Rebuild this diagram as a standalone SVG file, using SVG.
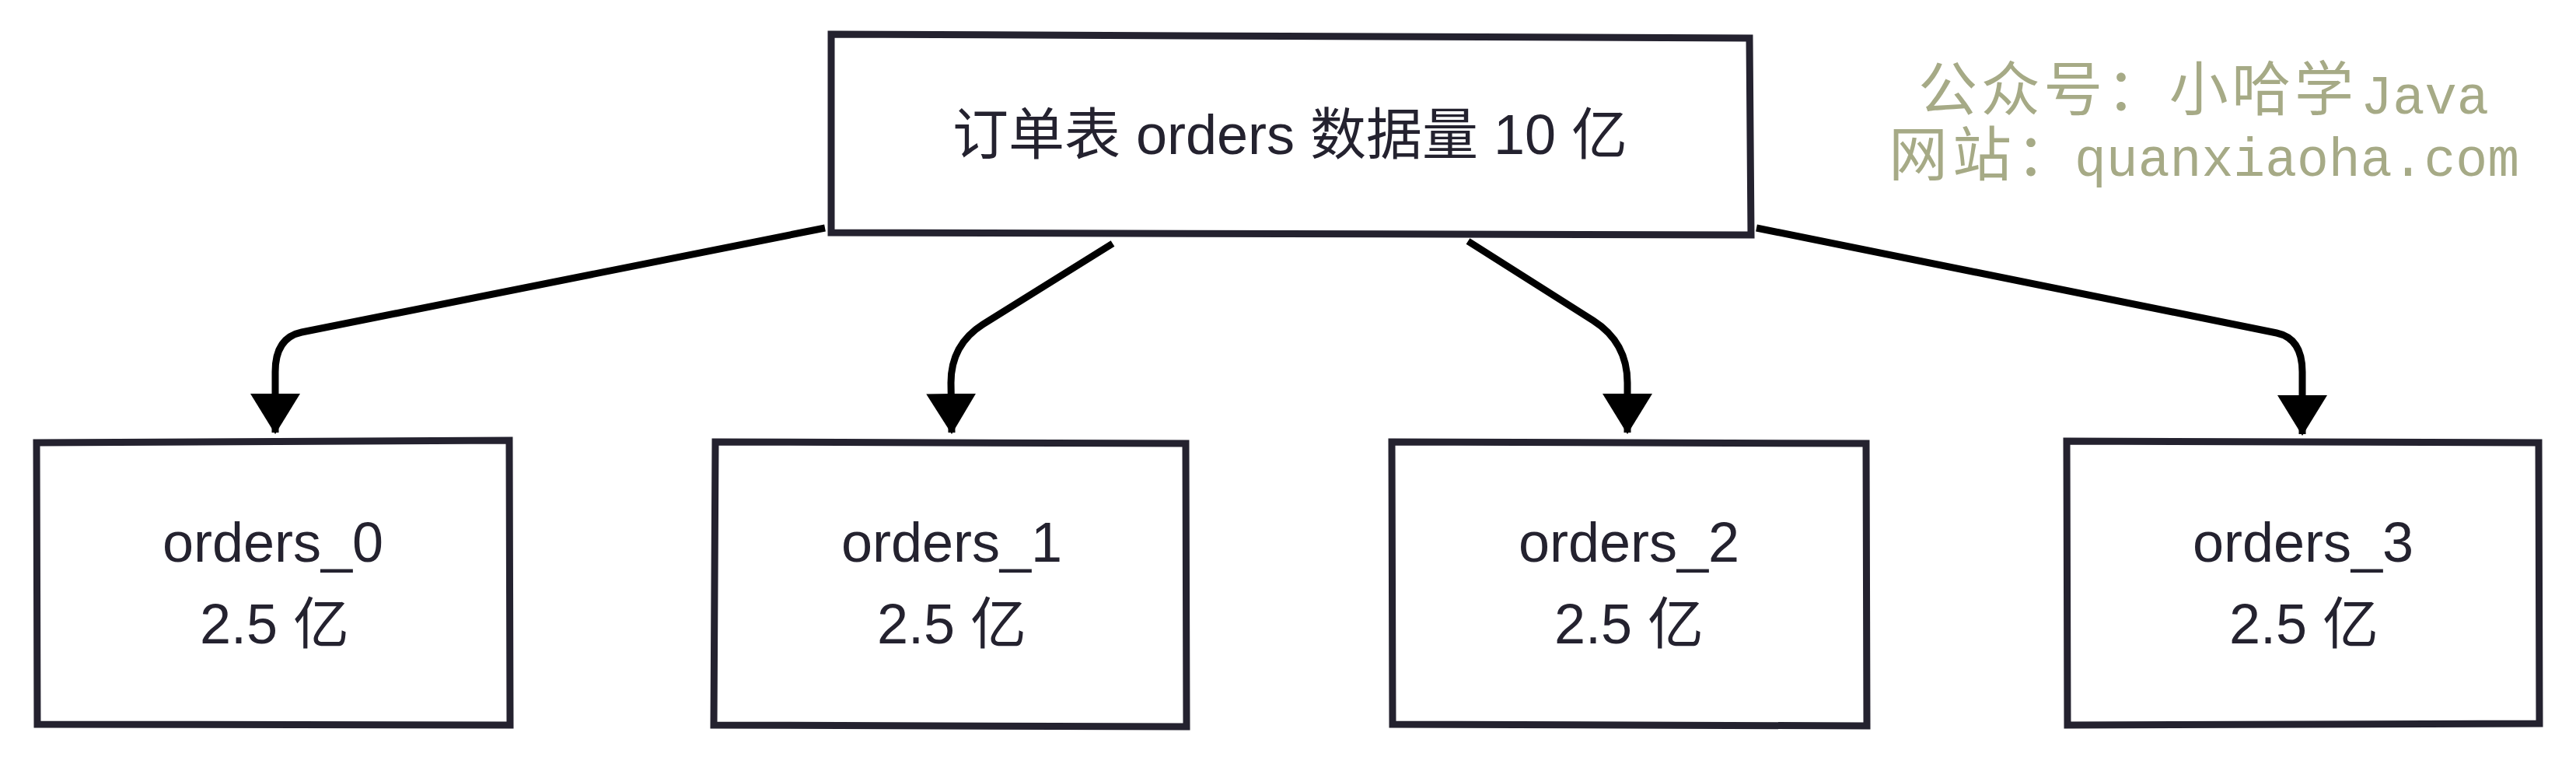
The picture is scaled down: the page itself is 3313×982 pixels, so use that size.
<svg xmlns="http://www.w3.org/2000/svg" width="3313" height="982" viewBox="0 0 3313 982">
  <style>
    .box { fill: #ffffff; stroke: #24222f; stroke-width: 9; stroke-linejoin: miter; stroke-linecap: square; }
    .lbl { font-family: "Liberation Sans", "Noto Sans CJK SC", sans-serif; font-size: 72px; fill: #24222f; text-anchor: middle; }
    .conn { fill: none; stroke: #000000; stroke-width: 9; stroke-linecap: butt; stroke-linejoin: round; }
    .wm-cjk { font-family: "Noto Sans CJK SC", sans-serif; font-size: 76px; fill: #a6aa86; }
    .wm-lat { font-family: "Liberation Mono", "Noto Sans CJK SC", monospace; font-size: 70px; fill: #a6aa86; }
  </style>
  <defs>
    <marker id="arrow" markerUnits="userSpaceOnUse" viewBox="0 0 52 64" markerWidth="52" markerHeight="64" refX="50" refY="32" orient="auto">
      <path d="M0,0 L52,32 L0,64 Z" fill="#000000"/>
    </marker>
  </defs>
  <rect x="0" y="0" width="3313" height="982" fill="#ffffff"/>

  <g id="watermark">
    <text x="2467" y="142"><tspan class="wm-cjk" textLength="560" lengthAdjust="spacing">公众号：小哈学</tspan><tspan class="wm-lat" x="3036" y="146" textLength="165" lengthAdjust="spacingAndGlyphs">Java</tspan></text>
    <text x="2429" y="226"><tspan class="wm-cjk" textLength="240" lengthAdjust="spacing">网站：</tspan><tspan class="wm-lat" x="2668" y="226" textLength="572" lengthAdjust="spacingAndGlyphs">quanxiaoha.com</tspan></text>
  </g>

  <g id="connectors">
    <path class="conn" d="M1061,293 L388,427 Q354,434 354,478 L354,556" marker-end="url(#arrow)"/>
    <path class="conn" d="M1431,313 L1264,417 Q1223,443 1223,492 L1224,556" marker-end="url(#arrow)"/>
    <path class="conn" d="M1888,310 L2049,412 Q2093,440 2093,492 L2093,556" marker-end="url(#arrow)"/>
    <path class="conn" d="M2259,293 L2928,428 Q2961,435 2961,478 L2961,558" marker-end="url(#arrow)"/>
  </g>

  <g id="node-orders">
    <path class="box" d="M1069,44 L2250,49 L2252,302 L1069,299 Z"/>
    <text class="lbl" x="1659" y="198">订单表 orders 数据量 10 亿</text>
  </g>

  <g id="node-orders_0">
    <path class="box" d="M47,569 L655,566 L656,932 L48,931 Z"/>
    <text class="lbl" x="351" y="722">orders_0</text>
    <text class="lbl" x="353" y="827">2.5 亿</text>
  </g>

  <g id="node-orders_1">
    <path class="box" d="M920,568 L1525,570 L1526,934 L918,932 Z"/>
    <text class="lbl" x="1224" y="722">orders_1</text>
    <text class="lbl" x="1224" y="827">2.5 亿</text>
  </g>

  <g id="node-orders_2">
    <path class="box" d="M1790,568 L2400,570 L2401,933 L1791,931 Z"/>
    <text class="lbl" x="2095" y="722">orders_2</text>
    <text class="lbl" x="2095" y="827">2.5 亿</text>
  </g>

  <g id="node-orders_3">
    <path class="box" d="M2658,567 L3265,569 L3266,930 L2659,932 Z"/>
    <text class="lbl" x="2962" y="722">orders_3</text>
    <text class="lbl" x="2963" y="827">2.5 亿</text>
  </g>
</svg>
